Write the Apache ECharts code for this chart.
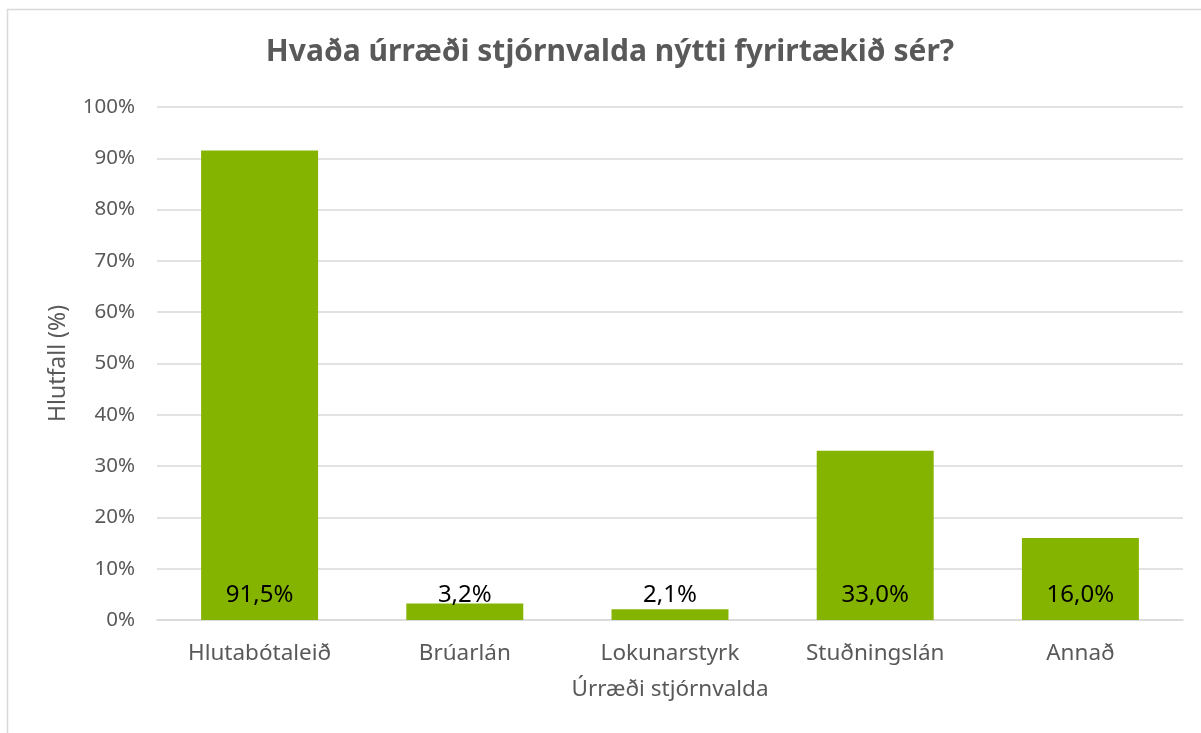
<!DOCTYPE html>
<html>
<head>
<meta charset="utf-8">
<script src="https://cdn.jsdelivr.net/npm/echarts@6/dist/echarts.min.js"></script>
<style>
html,body{margin:0;padding:0;background:#fff;}
#c{width:1201px;height:733px;}
</style>
</head>
<body>
<div id="c"></div>
<script>
const categories = ['Hlutabótaleið', 'Brúarlán', 'Lokunarstyrk', 'Stuðningslán', 'Annað'];
const values = [91.5, 3.2, 2.1, 33.0, 16.0];
const yTicks = [0, 10, 20, 30, 40, 50, 60, 70, 80, 90, 100];

const chart = echarts.init(document.getElementById('c'), null, {renderer: 'canvas'});
const font = '"Noto Sans", sans-serif';
chart.setOption({
  animation: false,
  backgroundColor: '#fff',
  graphic: [{
    type: 'rect', silent: true, z: -1,
    shape: {x: 7.5, y: 9.5, width: 1400, height: 900},
    style: {fill: 'none', stroke: '#d9d9d9', lineWidth: 1.5}
  }],
  title: {
    text: 'Hvaða úrræði stjórnvalda nýtti fyrirtækið sér?',
    left: 605, textAlign: 'center', top: 32,
    textStyle: {fontFamily: font, fontWeight: 'bold', fontSize: 30, color: '#595959'}
  },
  grid: {left: 157, right: 18, top: 107, bottom: 113},
  xAxis: {
    type: 'category', data: categories,
    axisTick: {show: false},
    axisLine: {lineStyle: {color: '#d9d9d9', width: 1.5}},
    axisLabel: {fontFamily: font, fontSize: 22.5, color: '#595959', margin: 22},
    name: 'Úrræði stjórnvalda', nameLocation: 'middle', nameGap: 58,
    nameTextStyle: {fontFamily: font, fontSize: 22.5, color: '#595959'}
  },
  yAxis: {
    type: 'value', min: 0, max: 100, interval: 10,
    axisLabel: {fontFamily: font, fontSize: 20.5, color: '#595959', margin: 22,
      formatter: v => yTicks.includes(v) ? v + '%' : ''},
    splitLine: {lineStyle: {color: '#d9d9d9', width: 1.5}},
    axisLine: {show: false}, axisTick: {show: false},
    name: 'Hlutfall (%)', nameLocation: 'middle', nameGap: 87,
    nameTextStyle: {fontFamily: font, fontSize: 23, color: '#595959'}
  },
  series: [{
    type: 'bar', data: values, barWidth: '57%',
    itemStyle: {color: '#84b400'},
    label: {
      show: true, position: 'insideBottom', distance: 13,
      fontFamily: font, fontSize: 24, color: '#000',
      formatter: p => p.value.toFixed(1).replace('.', ',') + '%'
    }
  }]
});
</script>
</body>
</html>
